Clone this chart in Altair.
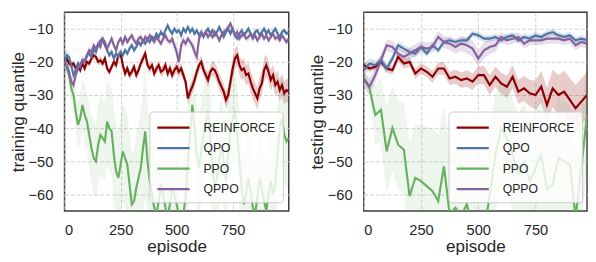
import altair as alt
import pandas as pd

ALGOS = ["REINFORCE", "QPO", "PPO", "QPPO"]
COLORS = ["#8b0000", "#4c75a3", "#67b060", "#86619b"]
BAND_OPACITY = [0.2, 0.2, 0.12, 0.2]

# ---------------- training (every 10 episodes) ----------------
train_episode = list(range(0, 1001, 10))

train_reinforce = [
    -20, -19, -20.5, -21, -20.5, -22, -21, -22.5, -20.5, -22,
    -20, -20.5, -19, -18, -18.5, -20, -19.5, -20.5, -19, -22,
    -23, -21.5, -20, -21, -18, -17.5, -21, -23.5, -22, -24,
    -23, -21.5, -24, -22.5, -20.5, -19, -17.5, -21, -22, -21,
    -23.5, -22, -21, -23, -22.5, -21, -23.5, -22, -24, -22.5,
    -21.5, -23, -22, -24, -26, -31, -29, -27.5, -25.5, -23,
    -21, -20, -22.5, -24, -25.5, -23, -22, -22.5, -24, -26,
    -27.5, -29, -31.5, -30, -26, -22, -19, -18, -21, -22.5,
    -22, -24, -23.5, -26, -28, -29.5, -31, -28, -26.5, -22.5,
    -21, -23, -25.5, -24, -27, -26, -28.5, -27, -29.5, -28.5,
    -29,
]
train_reinforce_sd = [
    0.8, 0.8, 0.9, 1, 1, 1, 1, 1, 1, 1,
    1, 1, 1, 1.1, 1.1, 1.1, 1.2, 1.2, 1.2, 1.2,
    1.2, 1.2, 1.3, 1.3, 1.3, 1.3, 1.3, 1.4, 1.4, 1.4,
    1.4, 1.4, 1.4, 1.5, 1.5, 1.5, 1.5, 1.5, 1.5, 1.5,
    1.5, 1.5, 1.6, 1.6, 1.6, 1.6, 1.6, 1.7, 1.7, 1.7,
    1.7, 1.8, 1.8, 1.8, 2, 2.2, 2.2, 2, 2, 2,
    2, 2, 2, 2.1, 2.2, 2.2, 2.3, 2.3, 2.4, 2.5,
    2.5, 2.6, 2.7, 2.8, 2.8, 3, 3, 3, 3, 3,
    3, 3, 3.2, 3.2, 3.3, 3.3, 3.4, 3.5, 3.5, 3.5,
    3.3, 3.2, 3.2, 3.3, 3.3, 3.4, 3.4, 3.5, 3.5, 3.5,
    3.5,
]
train_qpo = [
    -20, -18, -18.5, -21, -24, -22.5, -20.5, -21.5, -19.5, -20,
    -18, -17.5, -18.5, -16, -17, -15, -13.5, -13, -15, -16.5,
    -18, -17, -19, -17.5, -18.5, -17, -18, -16.5, -17.5, -16,
    -15, -16.5, -15.5, -14, -15, -13.5, -14.5, -13, -14, -12.5,
    -13, -11.5, -12.5, -11, -12, -10.5, -9, -10.5, -11.5, -10,
    -11, -10.5, -12, -10, -11, -9.5, -11, -10, -11.5, -10.5,
    -12, -11, -12.5, -11, -10, -11.5, -10.5, -12, -11, -9.5,
    -11, -12.5, -11, -10, -11.5, -10, -12, -13, -11.5, -10.5,
    -12, -11, -10, -11.5, -12.5, -11, -10.5, -12, -11, -10,
    -11.5, -10.5, -12, -11, -10, -11.5, -12.5, -11, -10.5, -11.5,
    -11,
]
train_qpo_sd = [
    1.5, 1.5, 1.4, 1.4, 1.3, 1.3, 1.2, 1.2, 1.1, 1.1,
    1, 1, 1, 1, 0.9, 0.9, 0.9, 0.9, 0.9, 0.9,
    0.9, 0.9, 0.9, 0.9, 0.9, 0.9, 0.9, 0.9, 0.9, 0.9,
    0.9, 0.9, 0.9, 0.9, 0.9, 0.9, 0.9, 0.9, 0.9, 0.9,
    0.8, 0.8, 0.8, 0.8, 0.8, 0.8, 0.8, 0.8, 0.8, 0.8,
    0.8, 0.8, 0.8, 0.8, 0.8, 0.8, 0.8, 0.8, 0.8, 0.8,
    0.8, 0.8, 0.8, 0.8, 0.8, 0.8, 0.8, 0.8, 0.8, 0.8,
    0.8, 0.8, 0.8, 0.8, 0.8, 0.8, 0.8, 0.8, 0.8, 0.8,
    0.8, 0.8, 0.8, 0.8, 0.8, 0.8, 0.8, 0.8, 0.8, 0.8,
    0.8, 0.8, 0.8, 0.8, 0.8, 0.8, 0.8, 0.8, 0.8, 0.8,
    0.8,
]
train_ppo = [
    -20, -22, -24, -28, -30, -35, -39, -37, -33, -36,
    -38, -42, -46, -49, -50, -45, -42, -43, -44, -38,
    -40, -41, -48, -53, -55, -51, -47, -49, -51, -57,
    -63, -62, -58, -55, -52, -46, -41, -50, -56, -60,
    -64, -66, -62, -57, -60, -64, -67, -63, -58, -60,
    -63, -66, -69, -66, -61, -50, -42, -33, -40, -48,
    -52, -47, -42, -38, -35, -44, -52, -58, -55, -49,
    -45, -50, -56, -48, -40, -37, -35, -42, -50, -58,
    -63, -60, -55, -59, -64, -66, -61, -55, -58, -62,
    -65, -60, -56, -60, -57, -48, -40, -37, -42, -44,
    -43,
]
train_ppo_sd = [
    1.5, 2, 3, 4, 5, 6, 7, 8, 8, 9,
    9, 10, 10, 11, 11, 12, 12, 12, 12, 13,
    13, 13, 14, 14, 14, 14, 15, 15, 15, 15,
    15, 15, 16, 16, 16, 18, 20, 18, 16, 16,
    15, 15, 15, 16, 16, 15, 15, 15, 16, 16,
    15, 15, 15, 16, 16, 16, 15, 14, 14, 15,
    15, 15, 14, 14, 14, 15, 15, 15, 15, 15,
    15, 15, 15, 15, 14, 14, 14, 15, 15, 15,
    15, 15, 15, 15, 15, 15, 15, 15, 15, 15,
    15, 15, 15, 15, 15, 15, 14, 14, 14, 14,
    14,
]
train_qppo = [
    -20, -21, -23, -26, -27, -24, -22, -21, -19.5, -20,
    -18, -16.5, -17, -15, -16, -14.5, -15.5, -13, -14, -16,
    -14.5, -13, -15, -16.5, -14, -13, -14.5, -12.5, -14, -13,
    -12, -13.5, -14.5, -13, -12.5, -14, -12.5, -13.5, -12, -13,
    -14, -12.5, -13.5, -14.5, -13, -12, -13.5, -14, -13, -15,
    -17, -20, -15, -13.5, -14.5, -13, -14, -15, -17, -18.5,
    -13, -11.5, -12, -11, -12.5, -11.5, -12.5, -11, -12, -13.5,
    -12, -11, -10.5, -9.5, -8.5, -10.5, -12, -11, -13, -12,
    -11.5, -13, -12.5, -11.5, -13, -12, -13.5, -12.5, -11.5, -13,
    -12, -13.5, -12.5, -11.5, -13, -12.5, -13.5, -12, -13, -14,
    -13,
]
train_qppo_sd = [
    1.5, 1.5, 1.5, 1.5, 1.4, 1.4, 1.3, 1.3, 1.2, 1.2,
    1.1, 1.1, 1.1, 1, 1, 1, 1, 1, 1, 1,
    1, 1, 1, 1, 1, 1, 1, 1, 1, 1,
    1, 1, 1, 1, 1, 1, 1, 1, 1, 1,
    1, 1, 1, 1, 1, 1, 1, 1, 1.2, 1.5,
    2, 2.5, 2, 1.5, 1.2, 1, 1.2, 1.5, 2, 2,
    1.5, 1.2, 1, 1, 1, 1, 1, 1, 1, 1,
    1, 1, 1, 1, 1, 1, 1, 1, 1, 1,
    1, 1, 1, 1, 1, 1, 1, 1, 1, 1,
    1, 1, 1, 1, 1, 1, 1, 1, 1, 1,
    1,
]

# ---------------- testing (every 25 episodes) ----------------
test_episode = list(range(0, 1000, 25))

test_reinforce = [
    -21, -22, -21.5, -20, -22, -22.5, -18.5, -20.5, -20, -23.5,
    -22, -23, -24.5, -22, -22, -25, -24.5, -25.5, -25, -26,
    -24, -24, -27, -24.5, -26.5, -27.5, -24.5, -29, -28, -29.5,
    -30, -27.5, -33, -28, -30, -29, -31.5, -34, -32, -30,
]
test_reinforce_sd = [
    1, 1, 1, 1.2, 1.2, 1.3, 1.5, 1.5, 1.5, 1.5,
    1.6, 1.6, 1.8, 1.8, 2, 2, 2.2, 2.3, 2.5, 2.5,
    2.6, 2.8, 3, 3, 3.2, 3.4, 3.5, 3.6, 3.8, 4,
    4.4, 4.8, 5.2, 5.6, 6, 6.3, 6.6, 7, 7, 7,
]
test_qpo = [
    -22.5, -20.5, -21, -19.5, -22, -19, -15, -16, -17, -17.5,
    -15.5, -17.5, -15, -16.5, -14, -13.5, -14, -13.5, -13.5, -11.5,
    -12, -13, -13, -12.5, -13.5, -12.5, -12, -13.5, -12.5, -13,
    -12, -12.5, -11.5, -11, -12, -12.5, -12, -13.5, -13, -13.5,
]
test_qpo_sd = [
    1.8, 1.6, 1.5, 1.5, 1.4, 1.3, 1.2, 1.2, 1.2, 1.2,
    1.1, 1.1, 1.1, 1.1, 1, 1, 1, 1, 1, 1,
    1, 1, 1, 1, 1, 1, 1, 1, 1, 1,
    1, 1, 1, 1, 1, 1, 1, 1, 1, 1,
]
test_ppo = [
    -25, -28, -36, -34.5, -47, -40, -45, -46.5, -60.5, -55,
    -56, -57.5, -59, -62, -51.5, -66, -64, -66.5, -63, -70,
    -66, -72, -60, -48, -40, -43, -48, -54, -50, -56,
    -52, -48, -58.5, -57, -49, -50, -51, -67, -52, -36,
]
test_ppo_sd = [
    2, 3, 9, 10, 13, 13, 13, 14, 16, 16,
    17, 18, 19, 20, 18, 20, 20, 20, 20, 20,
    20, 20, 20, 18, 15, 16, 17, 18, 18, 18,
    18, 18, 18, 18, 18, 18, 18, 18, 18, 15,
]
test_qppo = [
    -25, -27.5, -24, -19.5, -15, -15.5, -17.5, -18.5, -17.5, -16.5,
    -15.5, -16, -15.5, -12.5, -14, -14.5, -15.5, -14.5, -15, -16,
    -19, -16.5, -15.5, -15, -12.5, -13.5, -13, -12.5, -14.5, -13.5,
    -13.5, -13.5, -13, -13, -13, -13.5, -13, -15, -14, -14.5,
]
test_qppo_sd = [
    2.5, 2.5, 2.2, 2, 1.8, 1.8, 1.8, 1.8, 1.8, 1.8,
    1.8, 1.8, 1.8, 1.8, 1.8, 2, 2, 2.2, 2.5, 2.5,
    2.5, 2.5, 2.2, 2, 1.5, 1.5, 1.5, 1.5, 1.5, 1.5,
    1.5, 1.5, 1.5, 1.5, 1.5, 1.5, 1.5, 1.5, 1.5, 1.5,
]


def build(episodes, means, sds):
    rows = []
    for algo, mean, sd in zip(ALGOS, means, sds):
        for e, m, s in zip(episodes, mean, sd):
            rows.append({"episode": e, "value": m, "lo": m - s, "hi": m + s, "algo": algo})
    return pd.DataFrame(rows)


train_df = build(
    train_episode,
    [train_reinforce, train_qpo, train_ppo, train_qppo],
    [train_reinforce_sd, train_qpo_sd, train_ppo_sd, train_qppo_sd],
)
test_df = build(
    test_episode,
    [test_reinforce, test_qpo, test_ppo, test_qppo],
    [test_reinforce_sd, test_qpo_sd, test_ppo_sd, test_qppo_sd],
)

FONT = "Liberation Sans"


def panel(df, ytitle, xmax, width):
    xscale = alt.Scale(domain=[0, xmax], nice=False, zero=False)
    yscale = alt.Scale(domain=[-65, -5], nice=False, zero=False)
    xaxis = alt.Axis(values=[0, 250, 500, 750], title="episode")
    yaxis = alt.Axis(values=[-60, -50, -40, -30, -20, -10], title=ytitle)
    layers = []
    # one shaded band per algorithm, fixed colour (no scale, so no legend merging)
    for algo, col, op in zip(ALGOS, COLORS, BAND_OPACITY):
        layers.append(
            alt.Chart(df[df["algo"] == algo]).mark_area(clip=True, color=col, opacity=op).encode(
                x=alt.X("episode:Q", scale=xscale, axis=xaxis),
                y=alt.Y("lo:Q", scale=yscale, axis=yaxis),
                y2="hi:Q",
            )
        )
    line = alt.Chart(df).mark_line(clip=True, strokeWidth=2.2).encode(
        x=alt.X("episode:Q", scale=xscale, axis=xaxis),
        y=alt.Y("value:Q", scale=yscale, axis=yaxis),
        color=alt.Color(
            "algo:N",
            scale=alt.Scale(domain=ALGOS, range=COLORS),
            legend=alt.Legend(
                orient="none",
                legendX=87,
                legendY=102,
                title=None,
                symbolType="M-1,0H3",
                symbolSize=272,
                symbolStrokeWidth=2.2,
                labelFont=FONT,
                labelFontSize=12.5,
                labelColor="#262626",
                labelOffset=29.5,
                padding=7,
                rowPadding=5,
                fillColor="rgba(255,255,255,0.8)",
                strokeColor="#cccccc",
                cornerRadius=3,
            ),
        ),
    )
    layers.append(line)
    return alt.layer(*layers).properties(width=width, height=204)


left = panel(train_df, "training quantile", 1000, 230)
right = panel(test_df, "testing quantile", 975, 229)

chart = (
    alt.hconcat(left, right, spacing=18)
    .resolve_scale(color="independent")
    .properties(padding={"left": 0, "top": 0, "right": 0, "bottom": 0})
    .configure_view(stroke="#3d3d3d", strokeWidth=1.5)
    .configure_axis(
        grid=True,
        gridColor="#d2d2d2",
        gridDash=[4, 2],
        gridWidth=1,
        domain=False,
        ticks=False,
        labelFont=FONT,
        labelFontSize=15,
        labelColor="#262626",
        labelPadding=12,
        titleFont=FONT,
        titleFontSize=17.5,
        titleFontWeight="normal",
        titleColor="#262626",
        titlePadding=1,
    )
)

chart.save("out.html", embed_options={"renderer": "svg", "actions": False})
